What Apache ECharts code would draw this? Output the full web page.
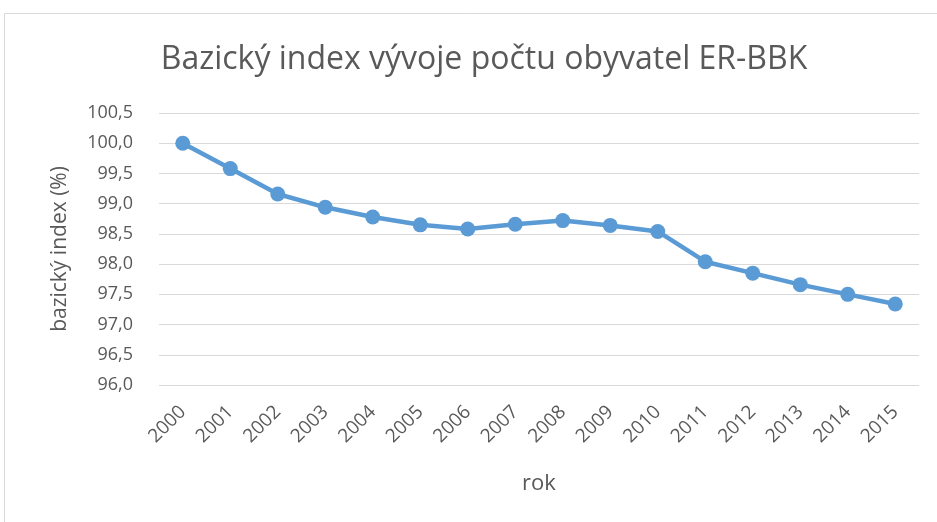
<!DOCTYPE html>
<html>
<head>
<meta charset="utf-8">
<script src="https://cdn.jsdelivr.net/npm/echarts@6/dist/echarts.min.js"></script>
<style>
  html, body { margin: 0; padding: 0; background: #fff; }
  #chart { width: 937px; height: 522px; }
</style>
</head>
<body>
<div id="chart"></div>
<script>
// data
const years = ['2000', '2001', '2002', '2003', '2004', '2005', '2006', '2007',
  '2008', '2009', '2010', '2011', '2012', '2013', '2014', '2015']
const indexValues = [100.0, 99.58, 99.16, 98.94, 98.78, 98.65, 98.58, 98.66,
  98.72, 98.64, 98.54, 98.04, 97.85, 97.66, 97.50, 97.34]
const yMin = 96
const yMax = 100.5
const yStep = 0.5

const textColor = '#595959'
const font = '"Open Sans", sans-serif'

const chart = echarts.init(document.getElementById('chart'))
chart.setOption({
  animation: false,
  title: {
    text: 'Bazický index vývoje počtu obyvatel ER-BBK',
    left: 479,
    textAlign: 'center',
    top: 39,
    textStyle: { color: textColor, fontSize: 32, fontWeight: 'normal', fontFamily: font }
  },
  graphic: [{
    type: 'rect',
    shape: { x: 4.5, y: 13.5, width: 940, height: 520 },
    style: { fill: 'none', stroke: '#d9d9d9', lineWidth: 1 },
    silent: true
  }],
  grid: { left: 159, right: 18, top: 113, bottom: 137 },
  xAxis: {
    type: 'category',
    data: years,
    boundaryGap: true,
    name: 'rok',
    nameLocation: 'middle',
    nameGap: 88,
    nameTextStyle: { color: textColor, fontSize: 22, fontFamily: font },
    axisLine: { show: false },
    axisTick: { show: false },
    axisLabel: { rotate: 45, color: textColor, fontSize: 19, fontFamily: font, margin: 24, interval: 0 }
  },
  yAxis: {
    type: 'value',
    min: yMin,
    max: yMax,
    interval: yStep,
    name: 'bazický index (%)',
    nameLocation: 'middle',
    nameGap: 88,
    nameTextStyle: { color: textColor, fontSize: 21, fontFamily: font },
    axisLine: { show: false },
    axisTick: { show: false },
    axisLabel: {
      color: textColor,
      fontSize: 18,
      fontFamily: font,
      margin: 26,
      formatter: v => v.toFixed(1).replace('.', ',')
    },
    splitLine: { lineStyle: { color: '#d9d9d9', width: 1 } }
  },
  series: [{
    type: 'line',
    data: indexValues,
    symbol: 'circle',
    symbolSize: 15,
    lineStyle: { color: '#5b9bd5', width: 4.5 },
    itemStyle: { color: '#5b9bd5' }
  }]
})
</script>
</body>
</html>
